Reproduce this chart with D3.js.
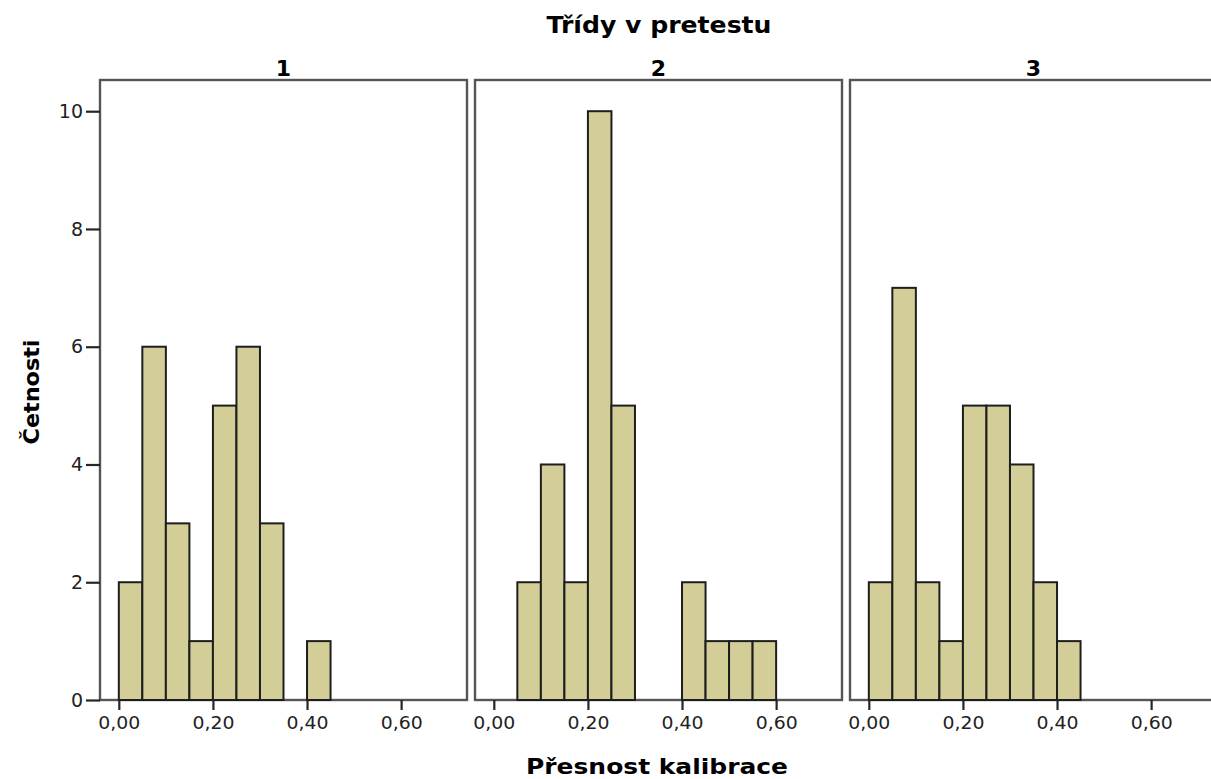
<!DOCTYPE html>
<html>
<head>
<meta charset="utf-8">
<script src="https://cdn.jsdelivr.net/npm/d3@7"></script>
<style>
  body { margin: 0; background: #fff; }
  svg { display: block; }
</style>
</head>
<body>
<script>
// Histogram data: counts per 0.05-wide bin, one array per pretest class
const panelNames = ["1", "2", "3"];
const binStarts = [0.00, 0.05, 0.10, 0.15, 0.20, 0.25, 0.30, 0.35, 0.40, 0.45, 0.50, 0.55];
const binWidth = 0.05;
const counts1 = [2, 6, 3, 1, 5, 6, 3, 0, 1, 0, 0, 0];
const counts2 = [0, 2, 4, 2, 10, 5, 0, 0, 2, 1, 1, 1];
const counts3 = [2, 7, 2, 1, 5, 5, 4, 2, 1, 0, 0, 0];
const panelCounts = [counts1, counts2, counts3];

const xTicks = [0, 0.2, 0.4, 0.6];
const xTickLabels = ["0,00", "0,20", "0,40", "0,60"];
const yTicks = [0, 2, 4, 6, 8, 10];

const width = 1211, height = 779;
const panelW = 367, panelStep = 375, panelLeft = 100;
const plotTop = 80, plotBottom = 700;

const svg = d3.select("body").append("svg")
    .attr("width", width)
    .attr("height", height)
    .style("font-family", "'DejaVu Sans', sans-serif");

// shared scales (each panel has its own translate)
const x = d3.scaleLinear().domain([-0.04, 0.74]).range([0, panelW]);
const y = d3.scaleLinear().domain([0, 10.53]).range([plotBottom, plotTop]);

// overall titles
svg.append("text")
    .attr("x", 659).attr("y", 33)
    .attr("text-anchor", "middle")
    .attr("font-size", 23).attr("font-weight", "bold")
    .attr("textLength", 225).attr("lengthAdjust", "spacingAndGlyphs")
    .text("Třídy v pretestu");

svg.append("text")
    .attr("x", 657).attr("y", 774)
    .attr("text-anchor", "middle")
    .attr("font-size", 22).attr("font-weight", "bold")
    .attr("textLength", 262).attr("lengthAdjust", "spacingAndGlyphs")
    .text("Přesnost kalibrace");

svg.append("text")
    .attr("transform", "translate(39,392) rotate(-90)")
    .attr("text-anchor", "middle")
    .attr("font-size", 21).attr("font-weight", "bold")
    .attr("textLength", 105).attr("lengthAdjust", "spacingAndGlyphs")
    .text("Četnosti");

panelNames.forEach((name, i) => {
    const g = svg.append("g")
        .attr("transform", `translate(${panelLeft + i * panelStep},0)`);

    // panel label
    g.append("text")
        .attr("x", panelW / 2).attr("y", 76)
        .attr("text-anchor", "middle")
        .attr("font-size", 22).attr("font-weight", "bold")
        .text(name);

    // frame
    g.append("rect")
        .attr("x", 0).attr("y", plotTop)
        .attr("width", panelW).attr("height", plotBottom - plotTop)
        .attr("fill", "#fff")
        .attr("stroke", "#555")
        .attr("stroke-width", 2.4);

    // bars
    const bars = binStarts
        .map((b, j) => ({ start: b, count: panelCounts[i][j] }))
        .filter(d => d.count > 0);

    g.selectAll("rect.bar")
        .data(bars)
        .enter()
        .append("rect")
        .attr("class", "bar")
        .attr("x", d => x(d.start))
        .attr("y", d => y(d.count))
        .attr("width", d => x(d.start + binWidth) - x(d.start))
        .attr("height", d => plotBottom - y(d.count))
        .attr("fill", "#d3ce97")
        .attr("stroke", "#1e1e1e")
        .attr("stroke-width", 2);

    // x axis
    const xAxis = g.append("g")
        .attr("transform", `translate(0,${plotBottom})`)
        .call(d3.axisBottom(x)
            .tickValues(xTicks)
            .tickFormat((d, k) => xTickLabels[k])
            .tickSize(10)
            .tickPadding(6));
    xAxis.select(".domain").remove();
    xAxis.selectAll(".tick line").attr("stroke", "#262626").attr("stroke-width", 2.2);
    xAxis.selectAll(".tick text")
        .attr("font-size", 18)
        .attr("font-family", "'DejaVu Sans', sans-serif")
        .attr("textLength", 42).attr("lengthAdjust", "spacingAndGlyphs")
        .attr("fill", "#222");

    // y axis only on the first panel
    if (i === 0) {
        const yAxis = g.append("g")
            .call(d3.axisLeft(y)
                .tickValues(yTicks)
                .tickSize(14)
                .tickPadding(3));
        yAxis.select(".domain").remove();
        yAxis.selectAll(".tick line").attr("stroke", "#262626").attr("stroke-width", 2.2);
        yAxis.selectAll(".tick text")
            .attr("font-size", 19)
            .attr("font-family", "'DejaVu Sans', sans-serif")
            .attr("fill", "#222");
    }
});
</script>
</body>
</html>
